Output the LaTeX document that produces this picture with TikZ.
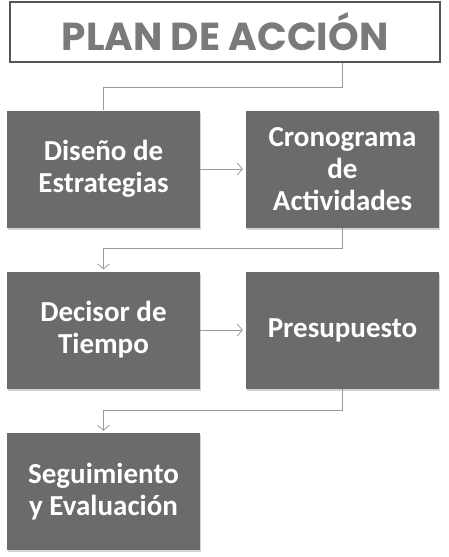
\documentclass[tikz,border=0pt]{standalone}
\usepackage{fontspec}
\setmainfont{Carlito}
\newfontfamily\titlefont{Poppins}
\usetikzlibrary{calc, arrows.meta, shadows}

\begin{document}
\begin{tikzpicture}[x=1pt, y=-1pt]
    % Define colours
    \definecolor{borderColour}{HTML}{555555}
    \definecolor{fillColour}{HTML}{6B6B6B}
    \definecolor{lineColour}{HTML}{9A9A9A}
    \definecolor{titleColour}{HTML}{7A7A7A}

    % Define styles
    \tikzset{
        stepbox/.style={draw=none, fill=fillColour, minimum width=193pt, minimum height=117pt,
            text=white, align=center, font=\bfseries\fontsize{29}{32}\selectfont,
            drop shadow={shadow xshift=1pt, shadow yshift=-2pt, opacity=0.35}},
        link/.style={draw=lineColour, line width=0.8pt},
        linkarrow/.style={link, -{Straight Barb[length=5pt, width=12pt]}}
    }

    % Fix page size
    \useasboundingbox (0,0) rectangle (448,557);

    % Draw title box
    \node[draw=borderColour, line width=1.6pt, fill=white, minimum width=430pt, minimum height=60pt,
        text=titleColour, font=\titlefont\bfseries\fontsize{39}{42}\selectfont] (title) at (225,32) {PLAN DE ACCIÓN};

    % Draw steps
    \node[stepbox] (design) at (103.5,169) {Diseño de\\Estrategias};
    \node[stepbox] (schedule) at (342.5,169) {Cronograma\\de\\Actividades};
    \node[stepbox] (timing) at (103.5,330) {Decisor de\\Tiempo};
    \node[stepbox] (budget) at (342.5,330) {Presupuesto};
    \node[stepbox] (review) at (103.5,491.5) {Seguimiento\\y Evaluación};

    % Draw connectors
    \draw[link] (title.south -| schedule.north) -- ++(0,25) -| (design.north);
    \draw[linkarrow] (design.east) -- ($(schedule.west)+(-3,0)$);
    \draw[linkarrow] (schedule.south) -- ++(0,21) -| ($(timing.north)+(0,-2)$);
    \draw[linkarrow] (timing.east) -- ($(budget.west)+(-3,0)$);
    \draw[linkarrow] (budget.south) -- ++(0,22) -| ($(review.north)+(0,-2)$);
\end{tikzpicture}
\end{document}
